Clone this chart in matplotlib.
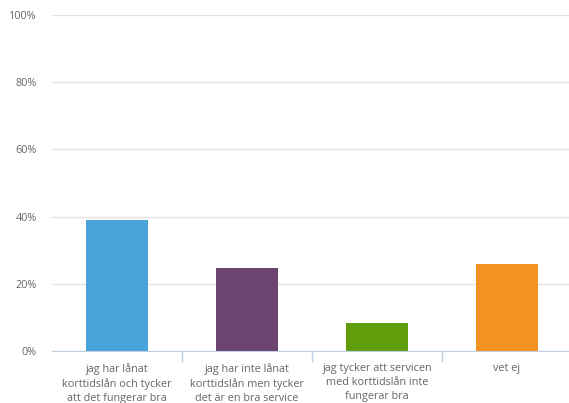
import matplotlib
matplotlib.use("Agg")
import matplotlib.pyplot as plt
from matplotlib.ticker import FixedLocator

categories = ["jag har lånat\nkorttidslån och tycker\natt det fungerar bra",
              "jag har inte lånat\nkorttidslån men tycker\ndet är en bra service",
              "jag tycker att servicen\nmed korttidslån inte\nfungerar bra",
              "vet ej"]
values = [39.0, 24.6, 8.2, 25.8]
colors = ["#4aa3da", "#6b4570", "#5f9e0a", "#f59322"]
yticks = [0, 20, 40, 60, 80, 100]
ytick_labels = ["0%", "20%", "40%", "60%", "80%", "100%"]

plt.rcParams['font.family'] = ['Open Sans', 'DejaVu Sans']
W, H = 569, 403
fig = plt.figure(figsize=(W/100, H/100), dpi=100)
ax = fig.add_axes([52/W, 1-351/H, 520/W, 336/H])
x = range(len(categories))
ax.bar(x, values, width=0.48, color=colors, zorder=3)
ax.set_xlim(-0.5, 3.5)
ax.set_ylim(0, 100)
ax.set_yticks(yticks)
ax.set_yticklabels(ytick_labels, fontsize=7.8, color="#666666")
ax.tick_params(axis='y', length=0, pad=11)
ax.grid(axis='y', color="#e2e2e2", linewidth=1, zorder=0)
for s in ["top", "right", "left"]:
    ax.spines[s].set_visible(False)
ax.spines["bottom"].set_color("#c0d0e0")
ax.spines["bottom"].set_zorder(4)
ax.set_xticks(list(x))
ax.set_xticklabels(categories, fontsize=7.8, color="#666666", linespacing=1.35, va="top")
ax.tick_params(axis='x', length=0, pad=9)
ax.xaxis.set_minor_locator(FixedLocator([0.5, 1.5, 2.5]))
ax.tick_params(axis='x', which='minor', length=8, color="#c0d0e0", width=1)
fig.savefig("out.png", dpi=100)
